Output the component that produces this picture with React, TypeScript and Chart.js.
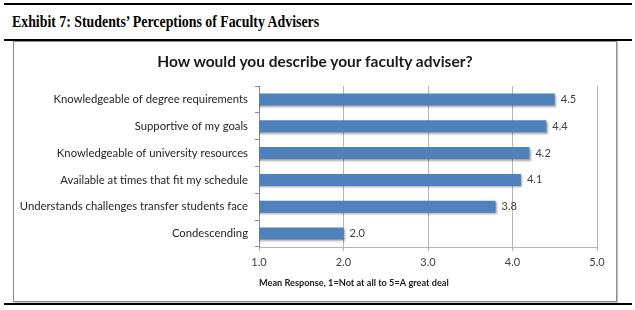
import React, { useEffect, useRef } from "react";
import { Chart, registerables } from "chart.js";

Chart.register(...registerables);

const categories = [
  "Knowledgeable of degree requirements",
  "Supportive of my goals",
  "Knowledgeable of university resources",
  "Available at times that fit my schedule",
  "Understands challenges transfer students face",
  "Condescending",
];
const meanResponse = [4.5, 4.4, 4.2, 4.1, 3.8, 2.0];
const xTicks = [1, 2, 3, 4, 5];

const exhibitTitle = "Exhibit 7: Students\u2019 Perceptions of Faculty Advisers";
const chartTitle = "How would you describe your faculty adviser?";
const xAxisTitle = "Mean Response, 1=Not at all to 5=A great deal";

const SANS = "Lato, 'Open Sans', sans-serif";

export default function App() {
  const ref = useRef<HTMLCanvasElement | null>(null);

  useEffect(() => {
    if (!ref.current) return;
    const barDecor = {
      id: "barDecor",
      beforeDatasetsDraw(chart: any) {
        const ctx = chart.ctx;
        ctx.save();
        ctx.shadowColor = "rgba(0,0,0,0.35)";
        ctx.shadowOffsetX = 1.5;
        ctx.shadowOffsetY = 1.5;
        ctx.shadowBlur = 2;
      },
      afterDatasetsDraw(chart: any) {
        const ctx = chart.ctx;
        ctx.restore();
        ctx.save();
        ctx.font = `11px ${SANS}`;
        ctx.fillStyle = "#404040";
        ctx.textAlign = "left";
        ctx.textBaseline = "middle";
        const meta = chart.getDatasetMeta(0);
        meta.data.forEach((el: any, i: number) => {
          ctx.fillText(meanResponse[i].toFixed(1), el.x + 6, el.y);
        });
        ctx.restore();
      },
    };

    const chart = new Chart(ref.current, {
      type: "bar",
      data: {
        labels: categories,
        datasets: [
          {
            data: meanResponse,
            backgroundColor: "#4F81BD",
            borderWidth: 0,
            barPercentage: 0.9,
            categoryPercentage: 0.5,
          },
        ],
      },
      plugins: [barDecor],
      options: {
        indexAxis: "y",
        animation: false,
        responsive: false,
        maintainAspectRatio: false,
        devicePixelRatio: 1,
        layout: { padding: { left: 0, right: 19, top: 44, bottom: 0 } },
        plugins: {
          legend: { display: false },
          tooltip: { enabled: false },
          title: { display: false },
        },
        scales: {
          x: {
            type: "linear",
            min: 1,
            max: 5,
            afterBuildTicks(scale: any) {
              scale.ticks = xTicks.map((v) => ({ value: v }));
            },
            afterFit(scale: any) {
              scale.height = 54;
            },
            ticks: {
              color: "#404040",
              font: { family: SANS, size: 11 },
              padding: 5,
              callback: (v: any) => Number(v).toFixed(1),
            },
            grid: { color: "#b5b5b5", tickLength: 4, lineWidth: 1 },
            border: { display: true, color: "#b5b5b5" },
            title: {
              display: true,
              text: xAxisTitle,
              align: "start",
              color: "#1a1a1a",
              font: { family: SANS, size: 9.2, weight: "bold", lineHeight: 1.2 },
              padding: { top: 0, bottom: 12 },
            },
          },
          y: {
            type: "category",
            afterFit(scale: any) {
              scale.width = 259;
            },
            ticks: {
              color: "#262626",
              font: { family: SANS, size: 11.3 },
              padding: 7,
            },
            grid: {
              offset: true,
              drawOnChartArea: false,
              drawTicks: true,
              tickLength: 4,
              color: "#8c8c8c",
            },
            border: { display: true, color: "#8c8c8c" },
          },
        },
      },
    });
    return () => chart.destroy();
  }, []);

  const line = (top: number): React.CSSProperties => ({
    position: "absolute",
    left: 4,
    width: 628,
    top,
    height: 2,
    background: "#000",
  });

  return (
    <div
      style={{
        position: "fixed",
        left: 0,
        top: 0,
        width: 635,
        height: 310,
        background: "#fff",
        overflow: "hidden",
      }}
    >
      <div style={line(3)} />
      <div
        style={{
          position: "absolute",
          left: 12,
          top: 12,
          fontFamily: "'Liberation Serif', serif",
          fontWeight: "bold",
          fontSize: 16,
          lineHeight: "20px",
          color: "#000",
          whiteSpace: "nowrap",
          transform: "scaleX(0.865)",
          transformOrigin: "left center",
        }}
      >
        {exhibitTitle}
      </div>
      <div style={line(39)} />
      <div
        style={{
          position: "absolute",
          left: 13,
          top: 41,
          width: 602,
          height: 259,
          border: "1px solid #8c8c8c",
          boxShadow: "1px 1px 1px #c8c8c8",
        }}
      />
      <canvas
        ref={ref}
        width={616}
        height={259}
        style={{ position: "absolute", left: 0, top: 42, width: 616, height: 259 }}
      />
      <div
        style={{
          position: "absolute",
          left: 13,
          width: 604,
          top: 51,
          textAlign: "center",
          fontFamily: SANS,
          fontWeight: "bold",
          fontSize: 15.5,
          lineHeight: "20px",
          color: "#1a1a1a",
          whiteSpace: "nowrap",
        }}
      >
        {chartTitle}
      </div>
      <div style={line(303)} />
    </div>
  );
}
